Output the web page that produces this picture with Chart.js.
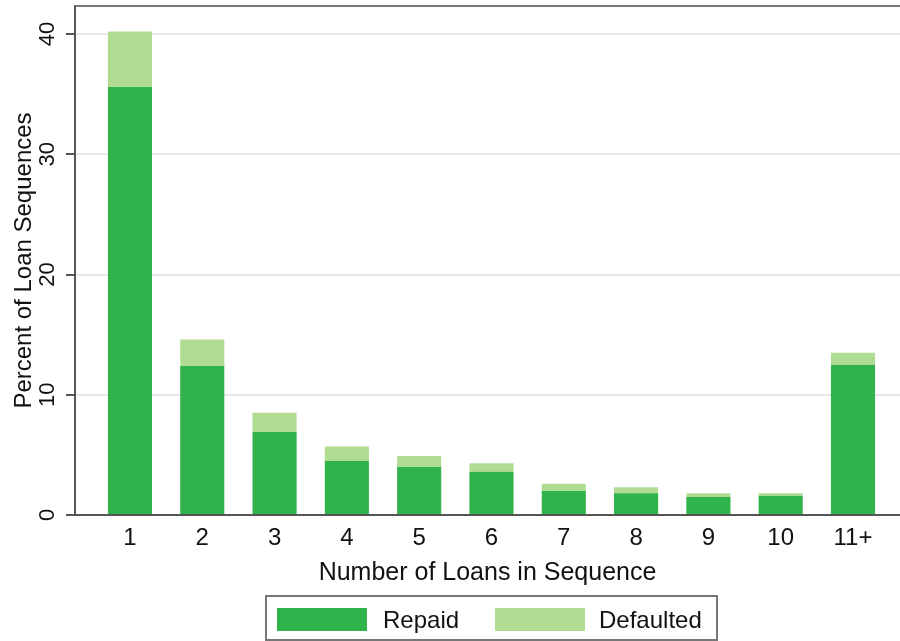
<!DOCTYPE html>
<html>
<head>
<meta charset="utf-8">
<script src="https://cdn.jsdelivr.net/npm/chart.js@4"></script>
<style>
  html, body { margin: 0; padding: 0; background: #fff; }
  #wrap { width: 900px; height: 641px; }
</style>
</head>
<body>
<div id="wrap"><canvas id="chart" width="900" height="641"></canvas></div>
<script>
const categories = ['1', '2', '3', '4', '5', '6', '7', '8', '9', '10', '11+'];
const repaid = [35.6, 12.4, 6.9, 4.5, 4.0, 3.6, 2.0, 1.8, 1.5, 1.6, 12.5];
const defaulted = [4.6, 2.2, 1.6, 1.2, 0.9, 0.7, 0.6, 0.5, 0.3, 0.2, 1.0];
const yTicks = [0, 10, 20, 30, 40];

const FONT = 'Liberation Sans, Arial, Helvetica, sans-serif';
const darkGreen = '#2fb34a';
const lightGreen = '#b0dc92';

// legend box drawn under the axis title, like the original
const legendBox = {
  id: 'legendBox',
  afterDraw(chart) {
    const ctx = chart.ctx;
    ctx.save();
    ctx.strokeStyle = '#777';
    ctx.lineWidth = 2;
    ctx.strokeRect(266, 596, 451, 44);
    const items = [
      { label: chart.data.datasets[0].label, color: darkGreen, x: 277, tx: 383 },
      { label: chart.data.datasets[1].label, color: lightGreen, x: 495, tx: 599 }
    ];
    ctx.font = '24px ' + FONT;
    ctx.textBaseline = 'middle';
    for (const it of items) {
      ctx.fillStyle = it.color;
      ctx.fillRect(it.x, 608, 90, 23);
      ctx.fillStyle = '#111';
      ctx.fillText(it.label, it.tx, 621);
    }
    // top frame line
    const a = chart.chartArea;
    ctx.strokeStyle = '#777';
    ctx.beginPath();
    ctx.moveTo(a.left, a.top);
    ctx.lineTo(a.right, a.top);
    ctx.stroke();
    ctx.restore();
  }
};

new Chart(document.getElementById('chart'), {
  type: 'bar',
  data: {
    datasets: [
      { label: 'Repaid', data: repaid.map((v, i) => ({ x: i + 1, y: v })), backgroundColor: darkGreen, borderWidth: 0 },
      { label: 'Defaulted', data: defaulted.map((v, i) => ({ x: i + 1, y: v })), backgroundColor: lightGreen, borderWidth: 0 }
    ]
  },
  options: {
    responsive: false,
    animation: false,
    layout: { padding: { top: 6, right: 0, left: 0, bottom: 0 } },
    datasets: { bar: { categoryPercentage: 1, barPercentage: 0.61 } },
    plugins: { legend: { display: false }, tooltip: { enabled: false } },
    scales: {
      x: {
        type: 'linear',
        stacked: true,
        offset: false,
        min: 0.24,
        max: 11.65,
        afterBuildTicks: axis => { axis.ticks = categories.map((c, i) => ({ value: i + 1 })); },
        afterFit: axis => { axis.height = 126; axis.paddingLeft = 0; axis.paddingRight = 0; },
        grid: { display: false, drawTicks: false, offset: false },
        border: { display: true, color: '#555', width: 2 },
        ticks: {
          padding: 9,
          maxRotation: 0,
          autoSkip: false,
          color: '#111',
          font: { family: FONT, size: 24 },
          callback: v => categories[v - 1]
        },
        title: {
          display: true,
          text: 'Number of Loans in Sequence',
          color: '#111',
          font: { family: FONT, size: 25 },
          padding: { top: 0, bottom: 53 }
        }
      },
      y: {
        stacked: true,
        min: 0,
        max: 42.33,
        afterBuildTicks: axis => { axis.ticks = yTicks.map(v => ({ value: v })); },
        afterFit: axis => { axis.width = 75; axis.paddingTop = 0; axis.paddingBottom = 0; },
        grid: { color: '#e8e8e8', lineWidth: 2, tickColor: '#555', tickLength: 9, tickWidth: 2 },
        border: { display: true, color: '#555', width: 2 },
        ticks: {
          minRotation: 90,
          maxRotation: 90,
          crossAlign: 'center',
          padding: 6,
          color: '#111',
          font: { family: FONT, size: 22 }
        },
        title: {
          display: true,
          text: 'Percent of Loan Sequences',
          color: '#111',
          font: { family: FONT, size: 24 },
          padding: { top: 10, bottom: 0 }
        }
      }
    }
  },
  plugins: [legendBox]
});
</script>
</body>
</html>
